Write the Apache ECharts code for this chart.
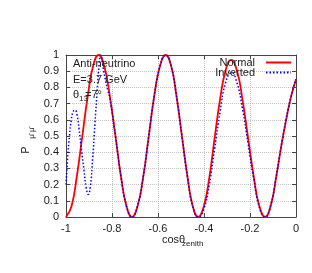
<!DOCTYPE html>
<html>
<head>
<meta charset="utf-8">
<script src="https://cdn.jsdelivr.net/npm/echarts@6/dist/echarts.min.js"></script>
<style>html,body{margin:0;padding:0;background:#fff;}#c{width:312px;height:273px;}</style>
</head>
<body>
<div id="c"></div>
<script>
// x-axis ticks (cos zenith) and y-axis ticks (probability)
const xTicks = [-1, -0.8, -0.6, -0.4, -0.2, 0];
const yTicks = [0, 0.1, 0.2, 0.3, 0.4, 0.5, 0.6, 0.7, 0.8, 0.9, 1];
const seriesNames = ['Normal', 'Inverted'];

// Normal hierarchy (red, solid)
const normalX = [-1.000, -0.976, -0.953, -0.929, -0.905, -0.882, -0.858,
  -0.834, -0.810, -0.785, -0.761, -0.737, -0.713,
  -0.689, -0.664, -0.640, -0.616, -0.591, -0.567,
  -0.543, -0.520, -0.496, -0.472, -0.449, -0.425,
  -0.401, -0.377, -0.354, -0.330, -0.306, -0.282,
  -0.257, -0.233, -0.208, -0.183, -0.159, -0.134,
  -0.110, -0.087, -0.065, -0.043, -0.022, 0.000];
const normalP = [0.000, 0.067, 0.250, 0.500, 0.750, 0.933, 1.000,
  0.933, 0.750, 0.500, 0.250, 0.067, 0.000,
  0.067, 0.250, 0.500, 0.750, 0.933, 1.000,
  0.933, 0.750, 0.500, 0.250, 0.067, 0.000,
  0.065, 0.243, 0.485, 0.728, 0.905, 0.970,
  0.905, 0.728, 0.485, 0.243, 0.065, 0.000,
  0.070, 0.240, 0.430, 0.600, 0.740, 0.850];

// Inverted hierarchy (blue, dotted)
const invertedX = [-1.000, -0.993, -0.985, -0.977, -0.969, -0.961, -0.952, -0.943,
  -0.933, -0.922, -0.912, -0.903, -0.894, -0.884, -0.874, -0.864, -0.856, -0.849,
  -0.843, -0.836, -0.828, -0.818, -0.810, -0.785, -0.761, -0.737, -0.713,
  -0.689, -0.664, -0.640, -0.616, -0.591, -0.567,
  -0.543, -0.520, -0.496, -0.472, -0.449, -0.425,
  -0.401, -0.377, -0.354, -0.330, -0.306, -0.280,
  -0.257, -0.233, -0.208, -0.183, -0.159, -0.134,
  -0.110, -0.087, -0.065, -0.043, -0.022, 0.000];
const invertedP = [0.200, 0.360, 0.500, 0.600, 0.650, 0.660, 0.630, 0.540,
  0.420, 0.290, 0.180, 0.140, 0.190, 0.360, 0.580, 0.790, 0.940, 1.000,
  0.960, 0.900, 0.840, 0.780, 0.740, 0.500, 0.250, 0.067, 0.000,
  0.067, 0.250, 0.500, 0.750, 0.933, 1.000,
  0.933, 0.750, 0.500, 0.250, 0.067, 0.000,
  0.050, 0.200, 0.420, 0.650, 0.830, 0.890,
  0.830, 0.670, 0.450, 0.230, 0.060, 0.000,
  0.070, 0.240, 0.430, 0.600, 0.740, 0.850];

const FONT = 'Liberation Sans, Arial, Helvetica, sans-serif';
const pair = (xs, ys) => xs.map((x, i) => [x, ys[i]]);
const fmt = v => (Math.abs(v) < 1e-9 ? '0' : String(+v.toFixed(1)));

const chart = echarts.init(document.getElementById('c'), null, {renderer: 'canvas'});
const axisLineStyle = {color: '#444', width: 1};
const baseX = {
  type: 'value', min: xTicks[0], max: xTicks[xTicks.length - 1], interval: 0.2,
  axisLine: {show: true, onZero: false, lineStyle: axisLineStyle},
  axisTick: {show: true, inside: true, length: 4, lineStyle: axisLineStyle}
};
const baseY = {
  type: 'value', min: yTicks[0], max: yTicks[yTicks.length - 1], interval: 0.1,
  axisLine: {show: true, onZero: false, lineStyle: axisLineStyle},
  axisTick: {show: true, inside: true, length: 4, lineStyle: axisLineStyle}
};
const txt = (x, y, text, size, extra) => Object.assign({
  type: 'text', x: x, y: y, z: 10,
  style: {text: text, font: size + 'px ' + FONT, fill: '#222', textAlign: 'left', textVerticalAlign: 'middle'}
}, extra || {});
const legendBase = {
  right: 20, align: 'right', itemWidth: 25, itemHeight: 10, padding: 0, selectedMode: false,
  itemStyle: {opacity: 0},
  textStyle: {fontSize: 11, fontFamily: FONT, color: '#222', padding: [0, 6, 0, 0]}
};

chart.setOption({
  animation: false,
  backgroundColor: '#fff',
  grid: {left: 66, right: 16, top: 55, bottom: 56, containLabel: false},
  xAxis: [
    Object.assign({}, baseX, {
      position: 'bottom',
      axisLabel: {margin: 6, fontSize: 11, fontFamily: FONT, color: '#222', formatter: fmt},
      splitLine: {show: true, lineStyle: {type: 'dotted', color: '#c4c4c4', width: 1}}
    }),
    Object.assign({}, baseX, {position: 'top', axisLabel: {show: false}, splitLine: {show: false}})
  ],
  yAxis: [
    Object.assign({}, baseY, {
      position: 'left',
      axisLabel: {margin: 7, fontSize: 11, fontFamily: FONT, color: '#222', formatter: fmt},
      splitLine: {show: true, lineStyle: {type: 'dotted', color: '#c4c4c4', width: 1}}
    }),
    Object.assign({}, baseY, {position: 'right', axisLabel: {show: false}, splitLine: {show: false}})
  ],
  legend: [
    Object.assign({}, legendBase, {data: [seriesNames[0]], top: 57}),
    Object.assign({}, legendBase, {data: [seriesNames[1]], top: 67})
  ],
  series: [
    {name: seriesNames[0], type: 'line', data: pair(normalX, normalP), smooth: 0.5,
     symbol: 'none', clip: true, z: 3,
     lineStyle: {color: '#ff0000', width: 1.8, type: 'solid'}, itemStyle: {color: '#ff0000'}},
    {name: seriesNames[1], type: 'line', data: pair(invertedX, invertedP), smooth: 0.5,
     symbol: 'none', clip: true, z: 4,
     lineStyle: {color: '#0000ff', width: 1.5, type: [1.5, 2]}, itemStyle: {color: '#0000ff'}}
  ],
  graphic: [
    txt(73, 64, 'Anti-neutrino', 11),
    txt(73, 80, 'E=3.7 GeV', 11),
    txt(73, 95, 'θ', 11),
    txt(79, 99, '13', 8),
    txt(85, 95, '=7°', 11),
    txt(162, 240, 'cosθ', 11),
    txt(182, 244, 'zenith', 8),
    txt(26, 150, 'P', 11, {rotation: Math.PI / 2, style: {text: 'P', font: '11px ' + FONT, fill: '#222', textAlign: 'center', textVerticalAlign: 'middle'}}),
    txt(32, 133, 'μ̄ μ̄', 8, {rotation: Math.PI / 2, style: {text: 'μ̄ μ̄', font: '8px ' + FONT, fill: '#222', textAlign: 'center', textVerticalAlign: 'middle'}})
  ]
});
</script>
</body>
</html>
